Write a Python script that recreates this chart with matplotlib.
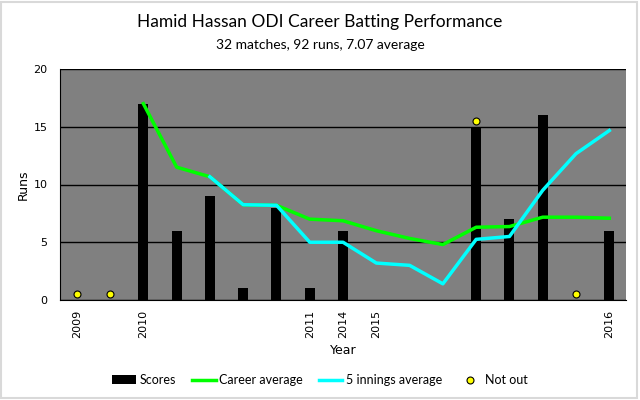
import numpy as np
import matplotlib
matplotlib.use('Agg')
from matplotlib import pyplot as plt
from matplotlib.patches import Rectangle

# innings by innings
scores = [0, 0, 17, 6, 9, 1, 8, 1, 6, 0, 0, 0, 15, 7, 16, 0, 6]
not_out = [1, 1, 0, 0, 0, 0, 0, 0, 0, 0, 0, 0, 1, 0, 0, 1, 0]
career_avg = [None, None, 17.0, 11.5, 10.67, 8.25, 8.2, 7.0, 6.86, 6.0, 5.33, 4.8,
              6.3, 6.36, 7.17, 7.17, 7.08]
five_avg = [None, None, None, None, 10.67, 8.25, 8.2, 5.0, 5.0, 3.2, 3.0, 1.4,
            5.25, 5.5, 9.5, 12.67, 14.67]
year_labels = ['2009', '', '2010', '', '', '', '', '2011', '2014', '2015',
               '', '', '', '', '', '', '2016']

plt.rcParams['font.family'] = ['DejaVu Sans']

fig = plt.figure(figsize=(6.4, 4.0), dpi=100)
ax = fig.add_axes([0.094, 0.25, 0.884, 0.5775])
ax.set_facecolor('#808080')

x = np.arange(len(scores))
bars = ax.bar(x, scores, width=0.3, color='black', zorder=3, label='Scores')

ca = np.array([np.nan if v is None else v for v in career_avg])
fa = np.array([np.nan if v is None else v for v in five_avg])
l1, = ax.plot(x, ca, color='#00ff00', lw=2.5, zorder=4, label='Career average')
l2, = ax.plot(x, fa, color='#00ffff', lw=2.5, zorder=4, label='5 innings average')

no_x = [i for i in x if not_out[i]]
no_y = [scores[i] + 0.5 for i in no_x]
l3, = ax.plot(no_x, no_y, ls='none', marker='o', ms=5, mfc='#ffff00', mec='black',
              mew=0.8, zorder=5, label='Not out')

ax.set_xlim(-0.5, len(scores) - 0.5)
ax.set_ylim(0, 20)
ax.set_yticks([0, 5, 10, 15, 20])
ax.yaxis.grid(True, color='black', lw=1, zorder=1)
ax.tick_params(axis='y', length=0, labelsize=8, pad=9)
ax.set_xticks(x)
ax.set_xticklabels(year_labels, rotation=90, fontsize=8)
ax.tick_params(axis='x', length=0, pad=7)
for s in ['top', 'right']:
    ax.spines[s].set_visible(False)

ax.set_ylabel('Runs', fontsize=9, labelpad=3)
ax.set_xlabel('Year', fontsize=9, labelpad=4)

fig.text(0.5, 0.945, 'Hamid Hassan ODI Career Batting Performance',
         ha='center', va='center', fontsize=12.5, family='Lato')
fig.text(0.5, 0.888, '32 matches, 92 runs, 7.07 average',
         ha='center', va='center', fontsize=10, family='Lato')

fig.legend([bars, l1, l2, l3], ['Scores', 'Career average', '5 innings average', 'Not out'],
           loc='center', bbox_to_anchor=(0.5, 0.05), ncol=4, frameon=False,
           prop={'family': 'Lato', 'size': 9},
           handlelength=1.9, columnspacing=1.3, handletextpad=0.25)

fig.patches.append(Rectangle((0.002, 0.004), 0.994, 0.992, transform=fig.transFigure,
                             fill=False, edgecolor='#d9d9d9', lw=1.5))

fig.savefig('out.png', dpi=100)
